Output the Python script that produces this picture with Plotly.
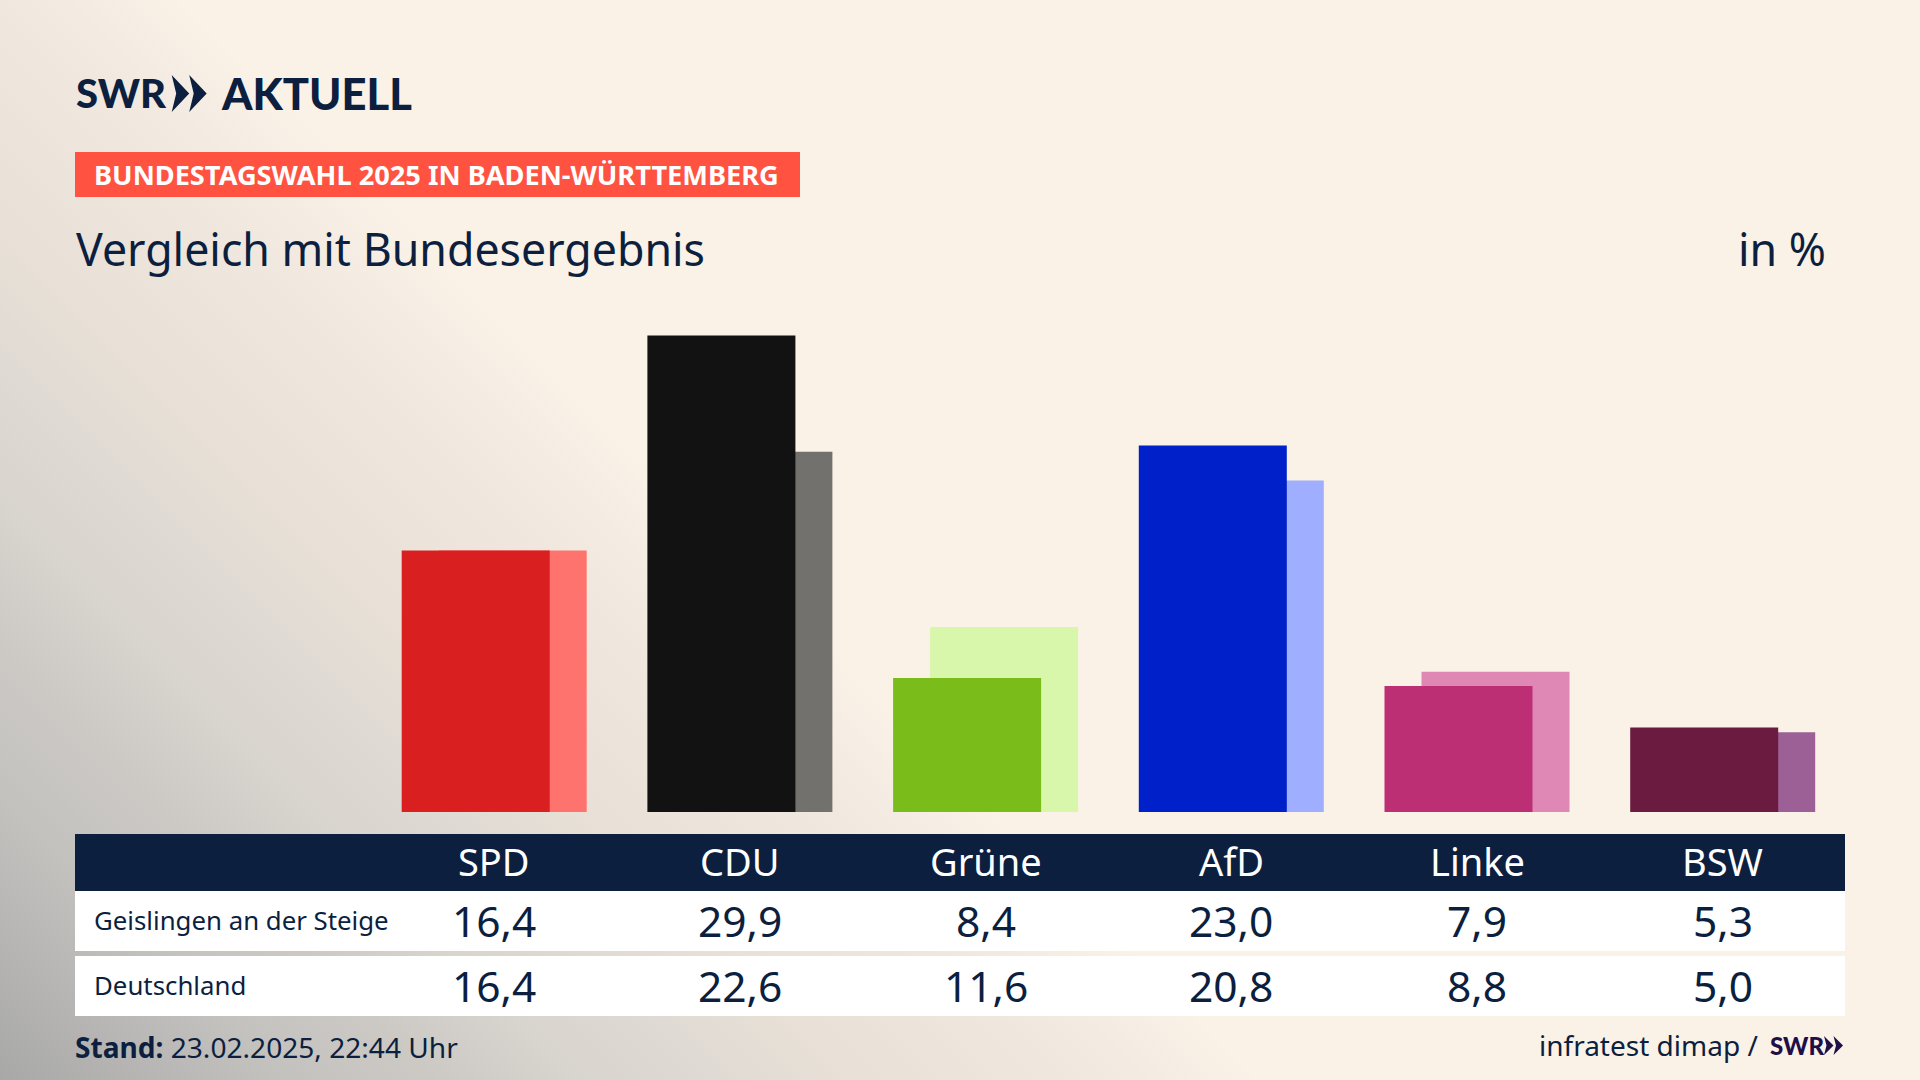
import base64
import plotly.graph_objects as go

W, H = 1920, 1080

parties = ["SPD", "CDU", "Grüne", "AfD", "Linke", "BSW"]
geislingen = [16.4, 29.9, 8.4, 23.0, 7.9, 5.3]
deutschland = [16.4, 22.6, 11.6, 20.8, 8.8, 5.0]
row_labels = ["Geislingen an der Steige", "Deutschland"]

front_colors = ["#D91F1F", "#121212", "#7ABD1A", "#0021C9", "#BD2F74", "#6B1A40"]
back_colors = ["#FF736E", "#73716E", "#D8F7AA", "#9FAEFF", "#E088B5", "#9C6096"]

NAVY = "#0C1F3F"
FONT = "Noto Sans"
LOGO_FONT = "Lato"

# pixel layout of the bars
base_y = 812
px_per_unit = 15.94
col_step = 245.7
first_col = 494.2
bar_w = 148
bar_shift = 37


def px(x):
    return x / W


def py(y):
    return 1 - y / H


def label(x, y, text, size, color=NAVY, anchor="left", font=FONT, xref="paper", weight=None):
    return dict(x=x if xref == "x" else px(x), y=py(y), xref=xref, yref="paper", text=text,
                showarrow=False, xanchor=anchor, yanchor="middle", align=anchor,
                font=dict(family=font, size=size, color=color, weight=weight))


def rect(x0, y0, x1, y1, color):
    return dict(type="rect", xref="paper", yref="paper", x0=px(x0), x1=px(x1), y0=py(y1), y1=py(y0),
                fillcolor=color, line_width=0, layer="below")


def chevrons(x0, y0, w, h, notch, color):
    # two arrow heads, the SWR logo mark
    path = ""
    for left in (x0, x0 + w):
        path += (f"M{px(left)},{py(y0)} L{px(left + w)},{py(y0 + h / 2)} L{px(left)},{py(y0 + h)} "
                 f"L{px(left + notch)},{py(y0 + h / 2)} Z ")
    return dict(type="path", xref="paper", yref="paper", path=path, fillcolor=color, line_width=0)


def fmt(v):
    return f"{v:.1f}".replace(".", ",")


# background: diagonal fade, grey in the lower left corner
svg = f"""<svg xmlns="http://www.w3.org/2000/svg" width="{W}" height="{H}">
<defs><linearGradient id="g" gradientUnits="userSpaceOnUse" x1="630" y1="450" x2="0" y2="1080">
<stop offset="0" stop-color="#FAF2E7"/><stop offset="0.065" stop-color="#F5EDE3"/>
<stop offset="0.143" stop-color="#F0E8DE"/><stop offset="0.333" stop-color="#E8E0D7"/>
<stop offset="0.429" stop-color="#DFDAD3"/><stop offset="0.54" stop-color="#D8D4CE"/>
<stop offset="0.659" stop-color="#CCC9C5"/><stop offset="0.778" stop-color="#C3C1BE"/>
<stop offset="1" stop-color="#A8A8A8"/>
</linearGradient></defs><rect width="{W}" height="{H}" fill="url(#g)"/></svg>"""
bg = "data:image/svg+xml;base64," + base64.b64encode(svg.encode()).decode()

fig = go.Figure()
bar_width = bar_w / col_step
front_offset = (-bar_w / 2 - bar_shift / 2) / col_step
back_offset = (-bar_w / 2 + bar_shift / 2) / col_step
fig.add_trace(go.Bar(x=parties, y=deutschland, name="Deutschland", marker_color=back_colors,
                     marker_line_width=0, width=bar_width, offset=back_offset))
fig.add_trace(go.Bar(x=parties, y=geislingen, name="Geislingen an der Steige", marker_color=front_colors,
                     marker_line_width=0, width=bar_width, offset=front_offset))

shapes = [rect(75, 152, 800, 197, "#FF5240"),
          rect(75, 834, 1845, 891, NAVY),
          rect(75, 891, 1845, 951, "white"),
          rect(75, 956, 1845, 1016, "white"),
          chevrons(171.7, 75, 17.5, 37, 4.5, NAVY),
          chevrons(1824, 1036, 9.5, 19, 2.5, "#1F0F47")]

annotations = [
    label(74, 93, "SWR", 40, font=LOGO_FONT, weight=900),
    label(219, 93, "AKTUELL", 43.5, font=LOGO_FONT, weight=900),
    label(92, 174.5, "<b>BUNDESTAGSWAHL 2025 IN BADEN-WÜRTTEMBERG</b>", 27.2, color="white"),
    label(74, 248, "Vergleich mit Bundesergebnis", 44.7),
    label(1828, 248, "in %", 44.7, anchor="right"),
    label(73, 1047, "<b>Stand:</b> 23.02.2025, 22:44 Uhr", 28.1),
    label(1760, 1045, "infratest dimap /", 28, anchor="right"),
    label(1768, 1045, "SWR", 24, color="#1F0F47", font=LOGO_FONT, weight=900),
]
for party, a, b in zip(parties, geislingen, deutschland):
    annotations.append(label(party, 861, party, 38, color="white", anchor="center", xref="x"))
    annotations.append(label(party, 920, fmt(a), 42.5, anchor="center", xref="x"))
    annotations.append(label(party, 985, fmt(b), 42.5, anchor="center", xref="x"))
annotations.append(label(92, 920, row_labels[0], 25.8))
annotations.append(label(92, 985, row_labels[1], 25.8))

fig.update_layout(
    width=W, height=H, margin=dict(l=0, r=0, t=0, b=0),
    barmode="overlay", showlegend=False,
    paper_bgcolor="#FAF2E7", plot_bgcolor="rgba(0,0,0,0)",
    xaxis=dict(domain=[0, 1], range=[-first_col / col_step, (W - first_col) / col_step], type="category",
               visible=False, fixedrange=True),
    yaxis=dict(domain=[py(base_y), 1], range=[0, base_y / px_per_unit], visible=False, fixedrange=True),
    shapes=shapes, annotations=annotations,
    images=[dict(source=bg, xref="paper", yref="paper", x=0, y=1, sizex=1, sizey=1,
                 xanchor="left", yanchor="top", sizing="stretch", layer="below")],
)
# the default body margin would push the 1920x1080 figure out of the window
fig.write_html("out.html", config={"displayModeBar": False}, post_script="document.body.style.margin='0';")
